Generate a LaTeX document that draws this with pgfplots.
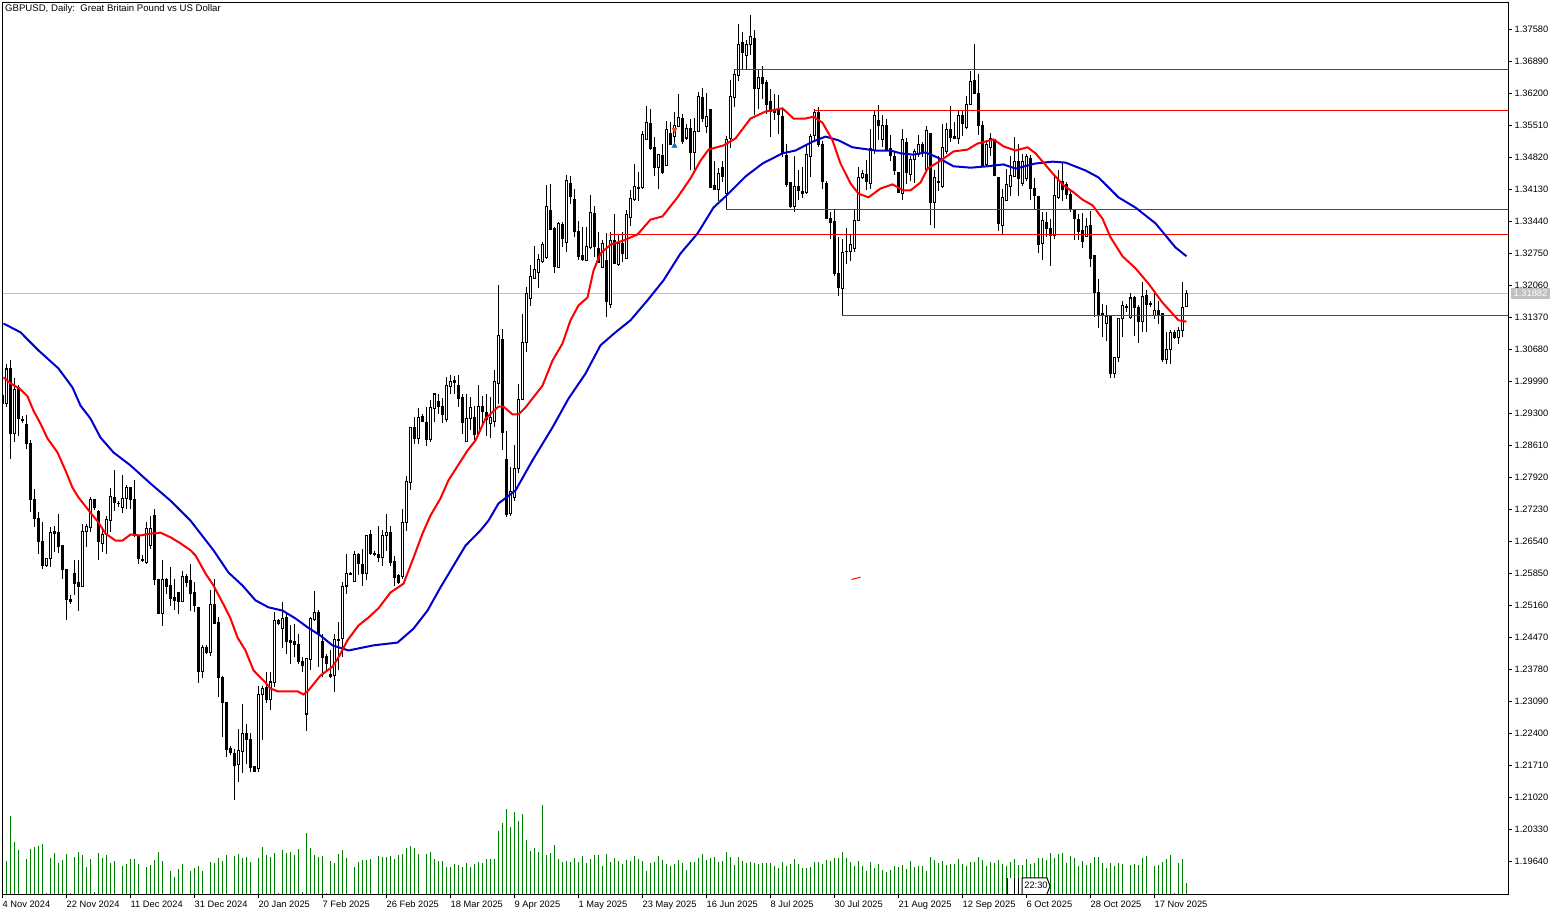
\documentclass[border=0pt]{standalone}
\usepackage{pgfplots}
\usepackage{pgfplotstable}
\pgfplotsset{compat=1.18}
\usepackage{fontspec}
\setmainfont{Liberation Sans}
\definecolor{mared}{RGB}{255,0,0}
\definecolor{mablue}{RGB}{0,0,205}
\definecolor{volgreen}{RGB}{0,128,0}
\definecolor{pricegray}{RGB}{192,192,192}
\pgfplotstableread{
i o h l c
-1 1.2969 1.2973 1.2947 1.2951
0 1.2951 1.3036 1.2944 1.3026
1 1.3026 1.3046 1.2832 1.2886
2 1.2886 1.3007 1.2868 1.2981
3 1.2987 1.2991 1.2881 1.2919
4 1.2917 1.2924 1.2909 1.2916
5 1.2906 1.2926 1.2854 1.2865
6 1.2865 1.2872 1.2717 1.2744
7 1.2744 1.2768 1.2685 1.2703
8 1.2703 1.2717 1.2627 1.2655
9 1.2655 1.2696 1.2595 1.2602
10 1.2602 1.2618 1.2599 1.2617
11 1.2617 1.2685 1.2599 1.2674
12 1.2676 1.2687 1.2631 1.2672
13 1.2674 1.2714 1.2629 1.2644
14 1.2645 1.2645 1.2573 1.2594
15 1.2593 1.2595 1.2484 1.2528
16 1.2528 1.2538 1.2520 1.2525
17 1.2586 1.2613 1.2538 1.2564
18 1.2565 1.2615 1.2504 1.2556
19 1.2556 1.2692 1.2556 1.2676
20 1.2676 1.2691 1.2642 1.2686
21 1.2685 1.2750 1.2674 1.2744
22 1.2744 1.2745 1.2722 1.2728
23 1.2719 1.2721 1.2613 1.2653
24 1.2650 1.2681 1.2631 1.2670
25 1.2670 1.2710 1.2626 1.2701
26 1.2699 1.2770 1.2674 1.2751
27 1.2748 1.2809 1.2719 1.2737
28 1.2737 1.2742 1.2728 1.2735
29 1.2728 1.2798 1.2715 1.2746
30 1.2746 1.2775 1.2724 1.2770
31 1.2770 1.2771 1.2724 1.2744
32 1.2744 1.2787 1.2663 1.2667
33 1.2667 1.2667 1.2606 1.2617
34 1.2616 1.2624 1.2609 1.2614
35 1.2609 1.2696 1.2606 1.2681
36 1.2645 1.2708 1.2637 1.2682
37 1.2710 1.2725 1.2560 1.2573
38 1.2573 1.2573 1.2498 1.2499
39 1.2499 1.2613 1.2471 1.2571
40 1.2571 1.2576 1.2541 1.2557
41 1.2559 1.2599 1.2514 1.2532
42 1.2534 1.2573 1.2507 1.2527
43 1.2543 1.2545 1.2498 1.2525
44 1.2525 1.2591 1.2523 1.2578
45 1.2578 1.2584 1.2555 1.2566
46 1.2571 1.2606 1.2504 1.2543
47 1.2545 1.2566 1.2501 1.2515
48 1.2511 1.2512 1.2348 1.2374
49 1.2374 1.2430 1.2359 1.2425
50 1.2425 1.2430 1.2412 1.2415
51 1.2414 1.2550 1.2407 1.2518
52 1.2518 1.2573 1.2475 1.2478
53 1.2479 1.2492 1.2318 1.2360
54 1.2360 1.2364 1.2233 1.2307
55 1.2307 1.2307 1.2189 1.2206
56 1.2207 1.2212 1.2194 1.2199
57 1.2196 1.2207 1.2097 1.2171
58 1.2174 1.2250 1.2135 1.2203
59 1.2202 1.2304 1.2154 1.2241
60 1.2241 1.2261 1.2174 1.2227
61 1.2228 1.2241 1.2157 1.2167
62 1.2169 1.2169 1.2157 1.2157
63 1.2164 1.2343 1.2157 1.2325
64 1.2325 1.2343 1.2225 1.2336
65 1.2339 1.2372 1.2305 1.2314
66 1.2314 1.2372 1.2291 1.2351
67 1.2351 1.2502 1.2340 1.2484
68 1.2484 1.2487 1.2475 1.2477
69 1.2466 1.2523 1.2424 1.2489
70 1.2489 1.2502 1.2412 1.2439
71 1.2440 1.2473 1.2390 1.2437
72 1.2438 1.2475 1.2405 1.2432
73 1.2433 1.2455 1.2390 1.2396
74 1.2396 1.2404 1.2372 1.2387
75 1.2282 1.2401 1.2246 1.2401
76 1.2399 1.2491 1.2376 1.2487
77 1.2485 1.2548 1.2483 1.2500
78 1.2500 1.2506 1.2383 1.2456
79 1.2439 1.2455 1.2361 1.2404
80 1.2406 1.2412 1.2372 1.2391
81 1.2368 1.2419 1.2360 1.2363
82 1.2365 1.2455 1.2329 1.2442
83 1.2441 1.2481 1.2376 1.2442
84 1.2444 1.2566 1.2404 1.2558
85 1.2558 1.2627 1.2541 1.2584
86 1.2585 1.2589 1.2581 1.2583
87 1.2568 1.2634 1.2566 1.2625
88 1.2626 1.2629 1.2581 1.2606
89 1.2604 1.2638 1.2559 1.2586
90 1.2584 1.2668 1.2570 1.2668
91 1.2668 1.2678 1.2624 1.2629
92 1.2629 1.2633 1.2622 1.2626
93 1.2627 1.2688 1.2609 1.2620
94 1.2620 1.2678 1.2602 1.2668
95 1.2668 1.2714 1.2633 1.2673
96 1.2673 1.2688 1.2602 1.2609
97 1.2611 1.2622 1.2557 1.2577
98 1.2581 1.2584 1.2563 1.2566
99 1.2578 1.2724 1.2573 1.2696
100 1.2694 1.2796 1.2676 1.2783
101 1.2782 1.2899 1.2765 1.2899
102 1.2899 1.2922 1.2865 1.2877
103 1.2877 1.2942 1.2865 1.2922
104 1.2923 1.2929 1.2911 1.2913
105 1.2911 1.2944 1.2860 1.2875
106 1.2873 1.2958 1.2868 1.2942
107 1.2940 1.2975 1.2911 1.2972
108 1.2956 1.2972 1.2929 1.2945
109 1.2945 1.2963 1.2909 1.2928
110 1.2918 1.3008 1.2911 1.2990
111 1.2989 1.3012 1.2972 1.2999
112 1.3001 1.3010 1.2971 1.2997
113 1.2990 1.3014 1.2945 1.2962
114 1.2964 1.2972 1.2886 1.2911
115 1.2870 1.2971 1.2870 1.2920
116 1.2920 1.2965 1.2895 1.2942
117 1.2922 1.2947 1.2873 1.2885
118 1.2886 1.2992 1.2886 1.2946
119 1.2945 1.2967 1.2902 1.2935
120 1.2932 1.2972 1.2882 1.2918
121 1.2909 1.2965 1.2877 1.2922
122 1.2913 1.3024 1.2900 1.2998
123 1.2994 1.3206 1.2951 1.3098
124 1.3089 1.3112 1.2852 1.2890
125 1.2830 1.2893 1.2706 1.2713
126 1.2715 1.2814 1.2710 1.2762
127 1.2748 1.2863 1.2742 1.2811
128 1.2811 1.2994 1.2801 1.2961
129 1.2961 1.3145 1.2958 1.3084
130 1.3084 1.3202 1.3062 1.3188
131 1.3179 1.3251 1.3161 1.3225
132 1.3220 1.3292 1.3220 1.3240
133 1.3233 1.3273 1.3201 1.3263
134 1.3257 1.3299 1.3254 1.3294
135 1.3267 1.3422 1.3263 1.3376
136 1.3368 1.3424 1.3325 1.3327
137 1.3328 1.3332 1.3232 1.3248
138 1.3245 1.3343 1.3244 1.3339
139 1.3337 1.3343 1.3289 1.3308
140 1.3299 1.3445 1.3278 1.3432
141 1.3425 1.3443 1.3381 1.3399
142 1.3391 1.3414 1.3310 1.3323
143 1.3322 1.3346 1.3260 1.3268
144 1.3271 1.3332 1.3258 1.3262
145 1.3260 1.3332 1.3258 1.3290
146 1.3288 1.3402 1.3285 1.3363
147 1.3362 1.3378 1.3268 1.3290
148 1.3285 1.3321 1.3256 1.3256
149 1.3244 1.3303 1.3244 1.3296
150 1.3260 1.3319 1.3138 1.3172
151 1.3166 1.3321 1.3158 1.3304
152 1.3303 1.3360 1.3253 1.3254
153 1.3251 1.3317 1.3249 1.3296
154 1.3297 1.3321 1.3256 1.3274
155 1.3265 1.3368 1.3263 1.3360
156 1.3352 1.3411 1.3335 1.3393
157 1.3391 1.3468 1.3389 1.3419
158 1.3418 1.3450 1.3389 1.3416
159 1.3418 1.3540 1.3414 1.3532
160 1.3520 1.3594 1.3519 1.3557
161 1.3556 1.3587 1.3498 1.3501
162 1.3504 1.3526 1.3441 1.3461
163 1.3460 1.3488 1.3414 1.3488
164 1.3486 1.3511 1.3447 1.3449
165 1.3464 1.3560 1.3463 1.3542
166 1.3533 1.3558 1.3508 1.3510
167 1.3527 1.3580 1.3508 1.3551
168 1.3549 1.3618 1.3549 1.3569
169 1.3566 1.3576 1.3511 1.3516
170 1.3524 1.3555 1.3520 1.3544
171 1.3544 1.3565 1.3455 1.3493
172 1.3493 1.3567 1.3454 1.3538
173 1.3539 1.3623 1.3537 1.3613
174 1.3611 1.3632 1.3558 1.3567
175 1.3549 1.3621 1.3534 1.3570
176 1.3585 1.3585 1.3416 1.3418
177 1.3421 1.3475 1.3414 1.3414
178 1.3414 1.3460 1.3389 1.3448
179 1.3460 1.3475 1.3429 1.3441
180 1.3404 1.3529 1.3368 1.3520
181 1.3522 1.3648 1.3503 1.3614
182 1.3612 1.3671 1.3590 1.3661
183 1.3659 1.3770 1.3647 1.3725
184 1.3729 1.3752 1.3670 1.3709
185 1.3701 1.3736 1.3671 1.3726
186 1.3725 1.3790 1.3702 1.3743
187 1.3738 1.3756 1.3573 1.3630
188 1.3630 1.3671 1.3586 1.3654
189 1.3654 1.3680 1.3608 1.3641
190 1.3643 1.3648 1.3576 1.3596
191 1.3603 1.3630 1.3526 1.3582
192 1.3583 1.3619 1.3562 1.3580
193 1.3583 1.3616 1.3533 1.3575
194 1.3570 1.3587 1.3483 1.3491
195 1.3486 1.3511 1.3419 1.3424
196 1.3427 1.3427 1.3375 1.3376
197 1.3377 1.3486 1.3364 1.3419
198 1.3419 1.3455 1.3391 1.3411
199 1.3409 1.3461 1.3395 1.3405
200 1.3407 1.3508 1.3404 1.3488
201 1.3484 1.3533 1.3440 1.3527
202 1.3529 1.3587 1.3515 1.3580
203 1.3579 1.3591 1.3504 1.3510
204 1.3509 1.3517 1.3414 1.3431
205 1.3426 1.3431 1.3350 1.3350
206 1.3351 1.3364 1.3306 1.3342
207 1.3344 1.3368 1.3227 1.3231
208 1.3231 1.3310 1.3184 1.3201
209 1.3199 1.3307 1.3141 1.3278
210 1.3279 1.3330 1.3253 1.3280
211 1.3280 1.3316 1.3258 1.3294
212 1.3285 1.3369 1.3278 1.3347
213 1.3347 1.3461 1.3344 1.3438
214 1.3438 1.3455 1.3436 1.3447
215 1.3445 1.3477 1.3411 1.3431
216 1.3425 1.3544 1.3414 1.3501
217 1.3497 1.3584 1.3490 1.3572
218 1.3561 1.3596 1.3520 1.3551
219 1.3521 1.3574 1.3504 1.3551
220 1.3551 1.3565 1.3498 1.3498
221 1.3502 1.3531 1.3475 1.3486
222 1.3484 1.3497 1.3445 1.3454
223 1.3449 1.3450 1.3405 1.3407
224 1.3405 1.3543 1.3390 1.3520
225 1.3515 1.3525 1.3425 1.3450
226 1.3446 1.3486 1.3432 1.3477
227 1.3477 1.3500 1.3428 1.3495
228 1.3488 1.3531 1.3482 1.3511
229 1.3511 1.3515 1.3482 1.3495
230 1.3457 1.3549 1.3454 1.3541
231 1.3533 1.3533 1.3337 1.3385
232 1.3385 1.3454 1.3331 1.3438
233 1.3431 1.3486 1.3410 1.3428
234 1.3420 1.3554 1.3416 1.3504
235 1.3495 1.3556 1.3490 1.3543
236 1.3543 1.3592 1.3515 1.3525
237 1.3527 1.3558 1.3522 1.3523
238 1.3522 1.3582 1.3511 1.3572
239 1.3572 1.3582 1.3529 1.3556
240 1.3546 1.3615 1.3543 1.3597
241 1.3597 1.3669 1.3596 1.3645
242 1.3648 1.3727 1.3619 1.3620
243 1.3619 1.3662 1.3531 1.3551
244 1.3552 1.3561 1.3462 1.3464
245 1.3467 1.3518 1.3462 1.3511
246 1.3504 1.3534 1.3486 1.3522
247 1.3520 1.3522 1.3443 1.3443
248 1.3439 1.3439 1.3324 1.3340
249 1.3336 1.3414 1.3318 1.3395
250 1.3389 1.3457 1.3389 1.3423
251 1.3420 1.3486 1.3400 1.3443
252 1.3441 1.3527 1.3439 1.3473
253 1.3473 1.3510 1.3400 1.3436
254 1.3426 1.3490 1.3421 1.3473
255 1.3436 1.3490 1.3432 1.3484
256 1.3479 1.3488 1.3390 1.3416
257 1.3416 1.3438 1.3369 1.3401
258 1.3398 1.3398 1.3275 1.3294
259 1.3297 1.3364 1.3261 1.3347
260 1.3341 1.3364 1.3310 1.3329
261 1.3329 1.3349 1.3249 1.3314
262 1.3314 1.3443 1.3306 1.3400
263 1.3395 1.3454 1.3393 1.3432
264 1.3430 1.3473 1.3389 1.3414
265 1.3423 1.3429 1.3393 1.3402
266 1.3402 1.3411 1.3364 1.3369
267 1.3367 1.3367 1.3304 1.3351
268 1.3349 1.3360 1.3303 1.3323
269 1.3324 1.3362 1.3287 1.3301
270 1.3311 1.3352 1.3310 1.3334
271 1.3335 1.3367 1.3245 1.3265
272 1.3270 1.3270 1.3137 1.3191
273 1.3190 1.3219 1.3114 1.3143
274 1.3145 1.3165 1.3094 1.3142
275 1.3124 1.3163 1.3087 1.3139
276 1.3139 1.3140 1.3007 1.3017
277 1.3017 1.3051 1.3007 1.3050
278 1.3050 1.3136 1.3040 1.3134
279 1.3134 1.3173 1.3094 1.3163
280 1.3161 1.3165 1.3148 1.3158
281 1.3137 1.3189 1.3134 1.3179
282 1.3179 1.3184 1.3098 1.3159
283 1.3159 1.3163 1.3083 1.3129
284 1.3129 1.3214 1.3105 1.3183
285 1.3184 1.3196 1.3105 1.3165
286 1.3167 1.3172 1.3160 1.3165
287 1.3141 1.3189 1.3134 1.3153
288 1.3153 1.3173 1.3123 1.3143
289 1.3145 1.3146 1.3040 1.3047
290 1.3047 1.3105 1.3036 1.3069
291 1.3069 1.3109 1.3036 1.3104
292 1.3105 1.3109 1.3091 1.3094
293 1.3093 1.3117 1.3080 1.3109
294 1.3109 1.3214 1.3094 1.3159
295 1.3161 1.3196 1.3159 1.3188
}\candles
\begin{document}
\begin{tikzpicture}[x=1pt,y=1pt]
\fontsize{9.3}{11}\selectfont
\path[use as bounding box] (0,0) rectangle (1561,915);
\begin{axis}[name=vol,scale only axis,width=1506pt,height=892pt,at={(2.5pt,20.5pt)},anchor=south west,
  hide axis,xmin=-1,xmax=375.5,ymin=0,ymax=892,clip=true]
\addplot[ycomb,color=volgreen,line width=1pt,mark=none] coordinates {
(0,33)(1,78)(2,52)(3,44)(5,35)(6,45)(7,47)(8,48)(9,50)(10,1)(11,36)(12,41)(13,31)(14,34)(15,40)(16,1)(17,37)(18,42)(19,39)(20,27)(21,35)(22,2)(23,41)(24,36)(25,39)(26,31)(27,33)(29,28)(30,30)(31,35)(32,35)(33,30)(35,27)(36,29)(37,34)(38,42)(39,33)(41,23)(42,17)(43,25)(44,30)(46,23)(47,26)(48,28)(49,23)(51,32)(52,31)(53,36)(54,33)(55,39)(57,38)(58,40)(59,36)(60,37)(61,32)(63,36)(64,47)(65,39)(66,37)(67,41)(68,1)(69,44)(70,41)(71,42)(72,39)(73,45)(74,2)(75,61)(76,46)(77,39)(78,37)(79,38)(80,1)(81,33)(82,31)(83,40)(84,44)(85,36)(87,27)(88,32)(89,34)(90,34)(91,35)(93,38)(94,37)(95,37)(96,38)(97,35)(98,39)
(99,40)(100,46)(101,48)(102,46)(103,40)(105,40)(106,42)(107,35)(108,33)(109,33)(110,27)(111,27)(112,30)(113,29)(114,27)(115,31)(116,27)(117,30)(118,32)(119,31)(120,35)(121,35)(122,35)(123,63)(124,71)(125,85)(126,67)(127,82)(128,73)(129,80)(130,54)(131,43)(132,46)(133,42)(134,89)(135,39)(136,41)(137,49)(138,35)(139,32)(140,33)(141,32)(142,36)(143,32)(144,38)(145,31)(146,35)(147,39)(148,39)(149,28)(150,40)(151,32)(152,36)(153,33)(154,30)(155,34)(156,33)(157,38)(158,35)(159,33)(160,23)(161,31)(162,32)(163,38)(164,34)(165,30)(166,28)(167,30)(168,34)(169,31)(170,24)(171,32)(172,32)(173,36)(174,40)(175,34)(176,36)(177,37)(178,32)(179,33)(180,42)(181,37)(182,29)(183,37)(184,33)(185,31)(186,32)(187,31)(188,30)(189,31)(190,31)(191,31)(192,28)(193,26)(194,32)(195,28)(196,30)(197,35)(198,30)
(199,26)(200,26)(201,27)(202,32)(203,32)(204,30)(205,34)(206,33)(207,36)(208,36)(209,42)(210,36)(211,32)(212,28)(213,33)(214,28)(215,23)(216,32)(217,26)(218,30)(219,24)(220,22)(221,24)(222,28)(223,27)(224,29)(225,25)(226,33)(227,27)(228,28)(229,28)(230,23)(231,37)(232,34)(233,31)(234,33)(235,29)(236,30)(237,30)(238,35)(239,30)(240,28)(241,32)(242,32)(243,37)(244,34)(245,28)(246,32)(247,31)(248,34)(249,30)(250,28)(251,32)(252,35)(253,29)(254,29)(255,35)(256,30)(257,31)(258,36)(259,36)(260,34)(261,41)(262,36)(263,40)(264,41)(265,31)(266,38)(267,36)(268,28)(269,33)(270,29)(271,31)(272,37)(273,37)(274,31)(275,26)(276,31)(277,28)(278,31)(279,30)(281,29)(282,30)(283,29)(284,36)(285,38)(287,28)(288,29)(289,32)(290,35)(291,39)(292,1)(293,31)(294,35)(295,11)
};
\end{axis}
\begin{axis}[name=price,scale only axis,width=1506pt,height=892pt,at={(2.5pt,20.5pt)},anchor=south west,
  xmin=-1,xmax=375.5,ymin=1.18928,ymax=1.38162,clip=true,
  axis line style={black,line width=1pt},
  tick style={black,line width=1pt},
  tick align=outside,major tick length=4pt,
  ytick pos=right,xtick pos=bottom,
  ytick={1.1964,1.2033,1.2102,1.2171,1.2240,1.2309,1.2378,1.2447,1.2516,1.2585,1.2654,1.2723,1.2792,1.2861,1.2930,1.2999,1.3068,1.3137,1.3206,1.3275,1.3344,1.3413,1.3482,1.3551,1.3620,1.3689,1.3758},
  yticklabels={1.19640,1.20330,1.21020,1.21710,1.22400,1.23090,1.23780,1.24470,1.25160,1.25850,1.26540,1.27230,1.27920,1.28610,1.29300,1.29990,1.30680,1.31370,1.32060,1.32750,1.33440,1.34130,1.34820,1.35510,1.36200,1.36890,1.37580},
  yticklabel style={anchor=west,inner sep=0pt,font=\fontsize{9.3}{11}\selectfont,xshift=2pt},
  xtick={-1,15,31,47,63,79,95,111,127,143,159,175,191,207,223,239,255,271,287},
  xticklabels={4 Nov 2024,22 Nov 2024,11 Dec 2024,31 Dec 2024,20 Jan 2025,7 Feb 2025,26 Feb 2025,18 Mar 2025,9 Apr 2025,1 May 2025,23 May 2025,16 Jun 2025,8 Jul 2025,30 Jul 2025,21 Aug 2025,12 Sep 2025,6 Oct 2025,28 Oct 2025,17 Nov 2025},
  xticklabel style={anchor=north west,inner sep=0pt,font=\fontsize{9.3}{11}\selectfont,yshift=-2pt},
]
\addplot[color=pricegray,line width=1pt,mark=none] coordinates {(-1,1.31887)(375.5,1.31887)};
% wicks
\addplot[draw=none,mark=none,error bars/.cd,y dir=both,y explicit,error mark=none,
  error bar style={draw=black,line width=1pt}]
  table[x=i,y=c,y error plus expr=\thisrow{h}-\thisrow{c},y error minus expr=\thisrow{c}-\thisrow{l}] {\candles};
% bodies: black outline or solid
\addplot[draw=none,mark=none,error bars/.cd,y dir=both,y explicit,error mark=none,
  error bar style={draw=black,line width=3pt}]
  table[x=i,y expr=(\thisrow{o}+\thisrow{c})/2,y error expr=abs(\thisrow{c}-\thisrow{o})/2+0.00011] {\candles};
% interior of rising candles
\addplot[draw=none,mark=none,error bars/.cd,y dir=both,y explicit,error mark=none,
  error bar style={draw=white,line width=1pt}]
  table[x=i,y expr=(\thisrow{o}+\thisrow{c})/2,y error expr={max((\thisrow{c}-\thisrow{o})/2-0.00011,0)}] {\candles};
% horizontal levels
\addplot[color=mared,line width=1pt,mark=none] coordinates {(182,1.36717)(375.5,1.36717)};
\addplot[color=mared,line width=1pt,mark=none] coordinates {(202,1.35833)(375.5,1.35833)};
\addplot[color=mared,line width=1pt,mark=none] coordinates {(180,1.33698)(375.5,1.33698)};
\addplot[color=mared,line width=1pt,mark=none] coordinates {(151,1.33159)(375.5,1.33159)};
\addplot[color=mared,line width=1pt,mark=none] coordinates {(209,1.31413)(375.5,1.31413)};
\addplot[color=mared,line width=1pt,mark=none] coordinates {(211.25,1.2572)(213.5,1.2577)};
% moving averages
\addplot[color=mablue,line width=2pt,mark=none] coordinates {
(-0.75,1.3124)(3.5,1.3105)(8,1.3066)(13,1.3027)(16.5,1.2986)(18.5,1.2947)(21,1.2919)(23.5,1.2878)(26.75,1.2846)(31,1.2818)(36,1.2779)(41,1.2742)(46,1.2699)(51.75,1.2635)(55.5,1.2587)(59,1.2559)(62.25,1.2527)(65.5,1.2512)(69,1.2505)(72.25,1.2488)(75.25,1.2469)(78.5,1.2451)(81.5,1.2430)(85.5,1.2419)(91.75,1.2430)(97.75,1.2436)(101.75,1.2466)(105.25,1.2505)(108.5,1.2555)(114.75,1.2645)(118.5,1.2678)(120.5,1.2699)(123,1.2736)(127.25,1.2764)(131.5,1.2829)(136.5,1.2900)(140.5,1.2962)(144.75,1.3016)(148.5,1.3077)(152.25,1.3105)(156,1.3131)(160.25,1.3174)(164.25,1.3217)(168.5,1.3275)(172.75,1.3318)(176.75,1.3374)(179.75,1.3398)(184.75,1.3441)(189,1.3469)(194,1.3491)(197.25,1.3497)(201.5,1.3516)(204.75,1.3527)(208,1.3519)(211.5,1.3504)(217.25,1.3497)(221,1.3497)(223.5,1.3491)(226.75,1.3488)(229.75,1.3493)(232.75,1.3482)(236.75,1.3463)(241,1.3460)(245.25,1.3463)(249.25,1.3467)(252.25,1.3458)(257.25,1.3469)(261.5,1.3473)(264.75,1.3471)(269.75,1.3454)(273,1.3439)(278,1.3396)(282.25,1.3374)(287.25,1.3340)(292.25,1.3288)(295,1.3269)};
\addplot[color=mared,line width=2pt,mark=none] coordinates {
(-0.75,1.3008)(1,1.2995)(3.5,1.2982)(5.25,1.2967)(6.75,1.2936)(8.5,1.2908)(10.25,1.2876)(12.75,1.2846)(14.75,1.2807)(16.5,1.2770)(18,1.2749)(21,1.2716)(23,1.2695)(24.75,1.2671)(27.25,1.2656)(29,1.2656)(31,1.2669)(33.5,1.2667)(36,1.2671)(38.5,1.2673)(41,1.2663)(43.5,1.2650)(46,1.2635)(47.25,1.2624)(49.75,1.2585)(51.75,1.2559)(54.75,1.2510)(56,1.2488)(57.75,1.2447)(59.75,1.2419)(61.75,1.2376)(64.75,1.2350)(66,1.2337)(67.75,1.2331)(70.25,1.2331)(72.75,1.2331)(74.25,1.2324)(75.5,1.2333)(78.5,1.2365)(81.5,1.2384)(83,1.2404)(85.25,1.2441)(88,1.2473)(90.5,1.2490)(93,1.2510)(96,1.2544)(99.25,1.2563)(101.75,1.2619)(104,1.2671)(106,1.2710)(108.5,1.2747)(110.5,1.2786)(115.25,1.2850)(117.25,1.2872)(119.75,1.2919)(123,1.2945)(124.25,1.2945)(126.5,1.2928)(128,1.2928)(129.75,1.2943)(134,1.2990)(136.5,1.3044)(139,1.3081)(141,1.3131)(143,1.3163)(145.25,1.3180)(146.75,1.3238)(148.5,1.3275)(151,1.3294)(154.25,1.3303)(157.75,1.3316)(161,1.3348)(164,1.3355)(167.75,1.3396)(171,1.3437)(173.5,1.3475)(175.5,1.3499)(179.25,1.3508)(182.25,1.3523)(186,1.3566)(189.75,1.3581)(194,1.3588)(196.75,1.3566)(199.75,1.3566)(201.75,1.3570)(204,1.3557)(206.5,1.3519)(208.5,1.3469)(211,1.3426)(213,1.3404)(215.5,1.3396)(218.5,1.3415)(221.5,1.3424)(224.25,1.3411)(226,1.3411)(228.5,1.3428)(230.25,1.3458)(233.5,1.3475)(236.75,1.3495)(240.25,1.3499)(242.75,1.3512)(246.75,1.3521)(249.25,1.3506)(252.25,1.3497)(255.25,1.3504)(257.25,1.3491)(259.25,1.3471)(261.5,1.3448)(264.25,1.3422)(266.75,1.3407)(269,1.3391)(271.5,1.3379)(274,1.3350)(276,1.3310)(279,1.3269)(282.25,1.3243)(285.5,1.3210)(289,1.3169)(293,1.3131)(295,1.3128)};
% trade arrows
\addplot[only marks,mark=triangle*,mark size=3pt,color={rgb,255:red,224;green,80;blue,45},mark options={rotate=180}] coordinates {(167,1.3542)};
\addplot[only marks,mark=triangle*,mark size=3pt,color={rgb,255:red,20;green,110;blue,180}] coordinates {(167,1.3507)};
\end{axis}
\node[anchor=west,inner sep=0pt,font=\fontsize{9.6}{11}\selectfont] at (5,905.5) {GBPUSD, Daily:\ \ Great Britain Pound vs US Dollar};
\node[fill=pricegray,text=white,inner sep=0pt,minimum width=39pt,minimum height=11pt] at (1530.5,621.5) {1.31882};
% time marker
\fill[white] (1007,21) rectangle (1050,37);
\draw[black,line width=1pt] (1022,21)--(1022,37)--(1047,37)--(1050,29)--(1047,21);
\foreach \vx in {1007.5,1014.5,1018.5}{\draw[black,line width=1pt] (\vx,21)--(\vx,37);}
\node[inner sep=0pt] at (1036,29.5) {22:30};
\end{tikzpicture}
\end{document}
